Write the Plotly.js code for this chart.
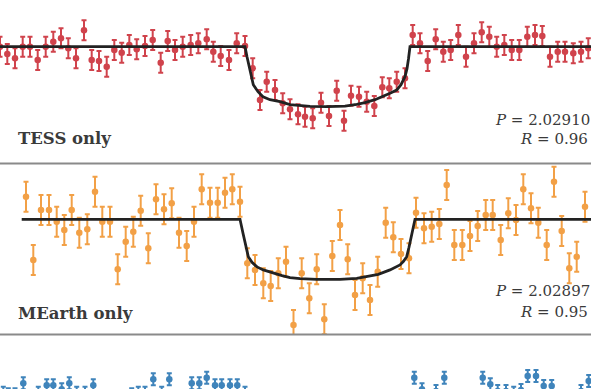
<!DOCTYPE html>
<html>
<head>
<meta charset="utf-8">
<script src="https://cdn.plot.ly/plotly-3.0.1.min.js"></script>
<style>html,body{margin:0;padding:0;background:#fff;}#chart{width:591px;height:389px;}</style>
</head>
<body>
<div id="chart"></div>
<script>
// ---------- TESS (panel 1): time index, relative flux (ppt) ----------
var tessX = [0, 7.3, 15, 22.7, 30, 37.7, 45.7, 53.3, 61, 68.3,
  76, 84, 91.7, 99, 106.7, 114.3, 121.7, 129.3, 136.7, 145,
  152.7, 160.7, 167.7, 175, 182.7, 190.7, 198.3, 206.7, 213.3, 220.7,
  229, 236.7, 245, 252.7, 260, 266.7, 275, 282.7, 290, 298,
  305, 312.7, 321, 329, 336.7, 344, 351, 359, 366.7, 374.3,
  382.3, 389.3, 396.7, 405, 412.7, 420, 427.7, 435.7, 443.3, 450.7,
  458.3, 466, 474, 481.7, 489.3, 496.7, 504.3, 511.7, 519.3, 527.3,
  535, 542.3, 550, 557.7, 565, 573.3, 581, 588.3];
var tessY = [0, -3.7, -5.8, 0, 0, -6.7, 0, 2.5, 4.2, -0.8,
  -5.8, 8.2, -6.7, -7.2, -10, -1.7, -3, 0.8, -1.3, 0.3,
  3.3, -8, 2.8, -1.7, 0, 0.8, 1.7, 3.7, -2.5, -4.7,
  -6.7, 1.7, 0.3, -10.8, -26.7, -17.5, -21.7, -28.3, -31.3, -33.8,
  -35, -35.8, -28, -34.7, -22, -37, -24.5, -25, -27.5, -29.7,
  -20.3, -20.8, -17.5, -15.8, 5.8, 1.7, -7.2, 3.7, -2.5, -1.7,
  5.8, -5, 1.7, 7.2, 5, 0, 0.8, -1.7, -1.7, 5,
  5.8, 5.3, -5, -2.5, -2.5, -3.3, -2.5, -0.8];
var tessErr = 5;
var tessModelX = [-10, 245, 247, 249, 251, 253.3, 258, 263, 270, 280, 290, 300, 310, 327.5,
  345, 356.7, 365, 375, 383, 390, 396.7, 401, 405, 407, 408.5, 410, 600];
var tessModelY = [0, 0, -5, -10, -15, -19, -22.5, -25, -26.5, -27.5, -29, -29.5, -29.8, -30,
  -29.7, -28.8, -28, -26.5, -25, -23.3, -21.7, -19, -15, -11, -6, 0, 0];

// ---------- MEarth (panel 2) ----------
var mearthX = [26, 33.3, 41, 49, 56.7, 64.3, 71.7, 79.3, 87.3, 95,
  102.3, 110, 117.7, 125.7, 133.3, 140.7, 148.3, 156, 164, 171.7,
  179, 186.7, 194, 201.7, 210, 217.7, 225, 232.3, 240, 247.3,
  255, 263.3, 270.7, 278.3, 286, 293.5, 301.7, 309.3, 316.7, 324.3,
  332.3, 340, 347.7, 355, 362.7, 370, 377.7, 385.7, 393.3, 401,
  409, 416, 424, 431.7, 439.3, 446.7, 454.3, 462.3, 470, 477.7,
  485.7, 492.7, 500.7, 508.3, 516, 523.3, 531, 538.3, 546.7, 554,
  561.7, 569.3, 576.7, 585];
var mearthY = [11.3, -20.3, 4.7, 4.7, -1.2, -5.3, 4.7, -6.7, -5, 13.8,
  -1.2, -1.2, -25, -11.2, -6.2, 4.3, -14.5, 10, 5, 8,
  -6.7, -13.3, -1.2, 15, 8.3, 8.3, 13.3, 15, 8.8, -22,
  -25.3, -32, -33.3, -27, -21.2, -52.8, -27, -39.5, -25, -50,
  -18.3, -2.8, -20, -37.8, -29.5, -40.3, -26.2, -1.7, -9, -17.3,
  -19.5, 3.3, -4.5, -3.7, -2.3, 17.2, -12.8, -12.8, -8.3, -3.3,
  2.2, 2.2, -10.3, 3, -0.3, 15, 5.5, -1.7, -12.8, 18.8,
  -5.8, -24.5, -18.7, 6.3];
var mearthErr = 7.5;
var mearthModelX = [21.7, 240, 243, 246, 248.3, 252, 257, 263.3, 272, 282, 290, 300, 316.7,
  340, 356.7, 366, 378.3, 390, 400, 403.5, 406.7, 409, 411, 413, 415, 600];
var mearthModelY = [0, 0, -7, -14, -18.7, -21.5, -23.8, -25.3, -26.8, -28.2, -29.2, -29.7, -30,
  -30, -29.5, -28.8, -27.5, -25.3, -22.8, -21, -18.7, -14, -9, -4.5, 0, 0];

// ---------- third panel (only its top edge is in view) ----------
var blueX = [3.3, 8.3, 15, 23.3, 38.3, 46.7, 53.3, 61.7, 69.3, 76.7,
  85, 93.3, 131.7, 138.3, 145, 153.3, 161.7, 169.3, 191.7, 199.3,
  206.7, 215, 221.7, 230, 237.3, 245,
  414.3, 422, 436, 444.3, 482.7, 490.3, 497.7, 506, 513.7, 521,
  527.7, 536, 543.7, 551.7, 581, 588.7];
var blueY = [-0.35, -1.15, -1.15, 4.35, -0.35, 3.35, 3.35, 1.35, 4.35, -0.35,
  -0.35, 3.35, -1.15, -0.35, -0.35, 6.35, -0.35, 6.35, 4.35, 4.35,
  7.15, 3.35, 3.35, 3.35, 3.35, -0.35,
  7.15, 1.35, 0.5, 7.15, 7.15, 3.85, 0.5, 0.5, -0.35, 1,
  8, 8, 3, 3, 0.5, 5.5];
var blueErr = 3;

// ---------- labels ----------
var panelLabels = ['TESS only', 'MEarth only'];
var periodLabels = ['2.02910', '2.02897'];
var radiusLabels = ['0.96', '0.95'];

var RED = '#d0434c', ORANGE = '#f2a046', BLUE = '#3f84bb', MODEL = '#222222';
var W = 591, H = 389;

function pts(x, y, err, color, xa, ya) {
  return {
    type: 'scatter', mode: 'markers', x: x, y: y, xaxis: xa, yaxis: ya,
    marker: {color: color, size: 6.5},
    error_y: {type: 'constant', value: err, color: color, thickness: 2, width: 2.5},
    hoverinfo: 'skip', showlegend: false
  };
}
function model(x, y, xa, ya) {
  return {
    type: 'scatter', mode: 'lines', x: x, y: y, xaxis: xa, yaxis: ya,
    line: {color: MODEL, width: 2.8}, hoverinfo: 'skip', showlegend: false
  };
}

var data = [
  pts(tessX, tessY, tessErr, RED, 'x', 'y'),
  model(tessModelX, tessModelY, 'x', 'y'),
  pts(mearthX, mearthY, mearthErr, ORANGE, 'x2', 'y2'),
  model(mearthModelX, mearthModelY, 'x2', 'y2'),
  pts(blueX, blueY, blueErr, BLUE, 'x3', 'y3')
];

function py(p) { return 1 - p / H; }
function px(p) { return p / W; }

var ax = {range: [0, 591], visible: false, fixedrange: true};
var div1 = py(163.5), div2 = py(334.5);

var serif = 'DejaVu Serif, Liberation Serif, serif';
function ann(text, x, y, size) {
  return {text: text, xref: 'paper', yref: 'paper', x: px(x), y: py(y),
    xanchor: 'left', yanchor: 'middle', showarrow: false,
    font: {family: serif, size: size, color: '#3a3a3a'}};
}

var layout = {
  width: W, height: H,
  margin: {l: 0, r: 0, t: 0, b: 0, pad: 0},
  paper_bgcolor: '#ffffff', plot_bgcolor: '#ffffff',
  showlegend: false,
  xaxis: Object.assign({anchor: 'y'}, ax),
  xaxis2: Object.assign({anchor: 'y2'}, ax),
  xaxis3: Object.assign({anchor: 'y3'}, ax),
  yaxis: {domain: [div1, 1], range: [-58.4, 23.35], visible: false, anchor: 'x'},
  yaxis2: {domain: [div2, div1], range: [-57.6, 27.9], visible: false, anchor: 'x2'},
  yaxis3: {domain: [0, div2], range: [1.5, 28.75], visible: false, anchor: 'x3'},
  shapes: [
    {type: 'line', xref: 'paper', yref: 'paper', x0: 0, x1: 1, y0: div1, y1: div1,
     line: {color: '#8a8a8a', width: 2}},
    {type: 'line', xref: 'paper', yref: 'paper', x0: 0, x1: 1, y0: div2, y1: div2,
     line: {color: '#8a8a8a', width: 2}}
  ],
  annotations: [
    ann('<b>' + panelLabels[0] + '</b>', 16, 138.5, 16.5),
    ann('<i>P</i> = ' + periodLabels[0], 493, 119.5, 15),
    ann('<i>R</i> = ' + radiusLabels[0], 517.5, 139, 15),
    ann('<b>' + panelLabels[1] + '</b>', 16, 313, 16.5),
    ann('<i>P</i> = ' + periodLabels[1], 493, 290.5, 15),
    ann('<i>R</i> = ' + radiusLabels[1], 518, 311.5, 15)
  ]
};

Plotly.newPlot('chart', data, layout, {staticPlot: true, displayModeBar: false});
</script>
</body>
</html>
